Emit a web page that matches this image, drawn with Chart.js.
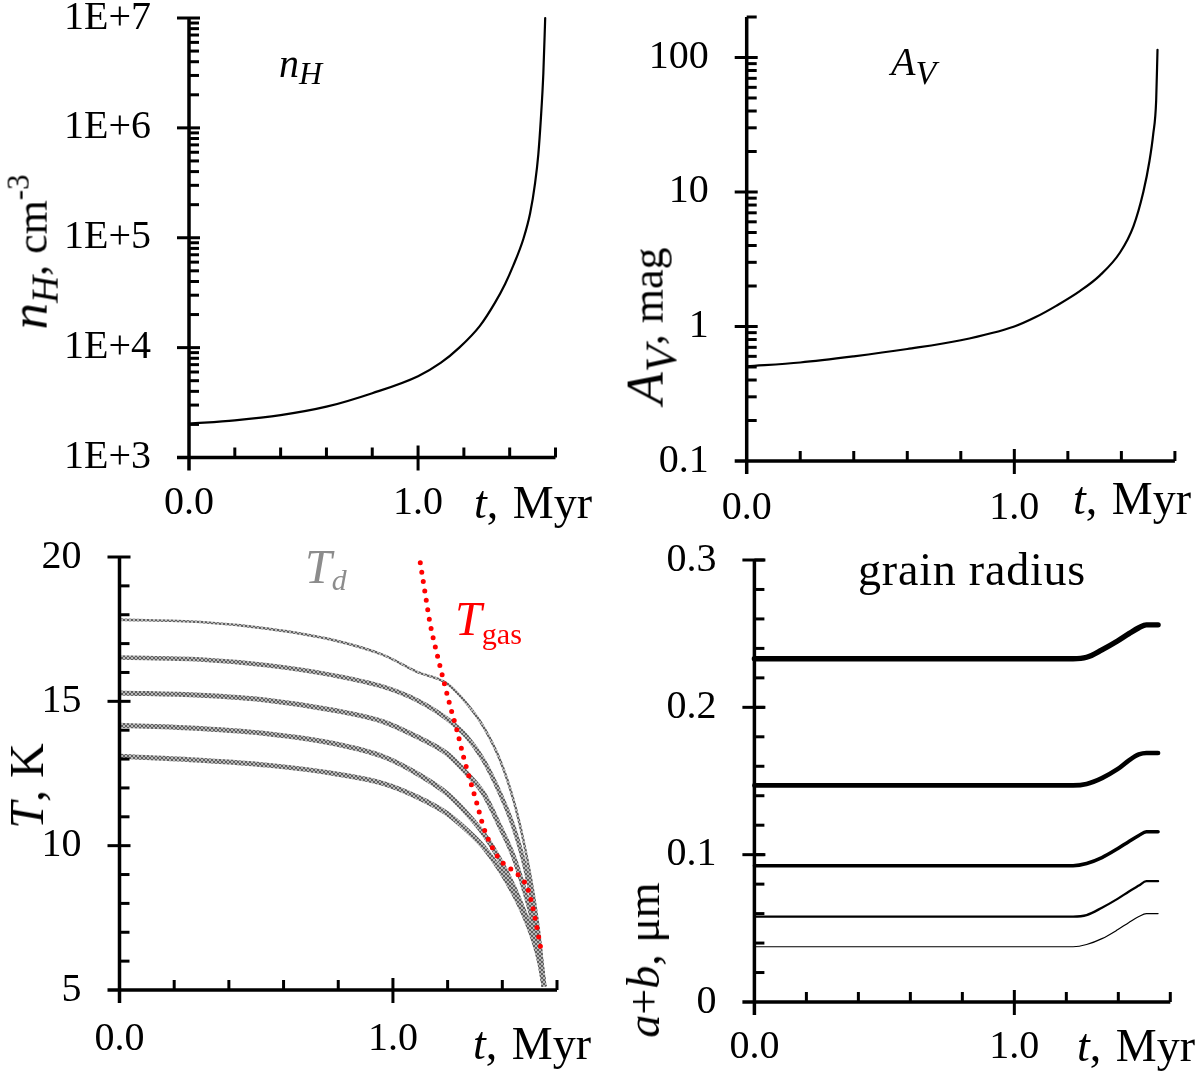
<!DOCTYPE html>
<html>
<head>
<meta charset="utf-8">
<script src="https://cdn.jsdelivr.net/npm/chart.js@4.4.1/dist/chart.umd.min.js"></script>
<style>
html, body { margin: 0; padding: 0; background: #fff; }
body { width: 1200px; height: 1072px; position: relative; overflow: hidden; font-family: 'Liberation Serif', 'Times New Roman', serif; color: #000; }
canvas { position: absolute; }
.lbl { position: absolute; white-space: nowrap; line-height: 1; transform: translateY(-50%); }
.rot { transform: translate(-50%, -50%) rotate(-90deg); }
.sb { font-size: .8em; position: relative; top: .3em; }
.sp { font-size: .7em; position: relative; top: -.6em; }
.tm { font-size: 46px; word-spacing: 3px; }
</style>
</head>
<body>
<canvas id="nhChart" width="600" height="536" style="left:0;top:0"></canvas>
<canvas id="avChart" width="600" height="536" style="left:600px;top:0"></canvas>
<canvas id="tChart" width="600" height="536" style="left:0;top:536px"></canvas>
<canvas id="grainChart" width="600" height="536" style="left:600px;top:536px"></canvas>

<!-- 軸タイトル・注記 -->
<div class="lbl rot" style="left:29px;top:252px;font-size:44px"><i style="font-size:1.2em">n</i><span class="sb" style="font-size:.85em"><i>H</i></span>, cm<span class="sp">-3</span></div>
<div class="lbl" style="left:279px;top:64px;font-size:40px"><i>n</i><span style="font-size:.8em;position:relative;top:.22em"><i>H</i></span></div>
<div class="lbl tm" style="right:608px;top:503px"><i>t</i>, Myr</div>

<div class="lbl rot" style="left:645px;top:326px;font-size:44px"><i style="font-size:1.2em">A</i><span class="sb" style="font-size:1em"><i>V</i></span>, mag</div>
<div class="lbl" style="left:891px;top:62px;font-size:40px"><i>A</i><span style="font-size:.85em;position:relative;top:.25em"><i>V</i></span></div>
<div class="lbl tm" style="right:9px;top:499px"><i>t</i>, Myr</div>

<div class="lbl rot" style="left:27px;top:786px;font-size:48px"><i>T</i>, K</div>
<div class="lbl" style="left:305px;top:567px;font-size:48px;color:#8c8c8c"><i>T</i><span style="font-size:.62em;position:relative;top:.25em"><i>d</i></span></div>
<div class="lbl" style="left:455px;top:619px;font-size:48px;color:#f00"><i>T</i><span style="font-size:.63em;position:relative;top:.3em">gas</span></div>
<div class="lbl tm" style="right:609px;top:1044px"><i>t</i>, Myr</div>

<div class="lbl rot" style="left:644px;top:960px;font-size:46px"><i>a</i>+<i>b</i>, μm</div>
<div class="lbl" style="left:858px;top:570px;font-size:46px;letter-spacing:0.8px">grain radius</div>
<div class="lbl tm" style="right:5px;top:1046px"><i>t</i>, Myr</div>

<script>
// 時間軸の目盛り
const xTicks = [0, 1];
const xTickLabels = ['0.0', '1.0'];
const xMinorTicks = [0.2, 0.4, 0.6, 0.8, 1.2, 1.4, 1.6];

// n_H (cm^-3)
const nhTime = [0, 0.2, 0.4, 0.6, 0.8, 1.0, 1.1, 1.18, 1.27, 1.336, 1.38, 1.416, 1.46, 1.489, 1.511, 1.525, 1.536, 1.547, 1.555];
const nhValues = [2030, 2180, 2430, 2900, 3850, 5500, 7300, 10000, 15800, 25700, 38000, 56000, 98000, 166000, 316000, 575000, 1200000, 3160000, 10000000];
const nhTicks = [1e3, 1e4, 1e5, 1e6, 1e7];
const nhTickLabels = ['1E+3', '1E+4', '1E+5', '1E+6', '1E+7'];

// A_V (mag)
const avTime = [0, 0.2, 0.4, 0.6, 0.8, 1.0, 1.08, 1.158, 1.246, 1.32, 1.395, 1.445, 1.482, 1.505, 1.519, 1.53, 1.535];
const avValues = [0.506, 0.54, 0.6, 0.68, 0.79, 1.0, 1.175, 1.43, 1.84, 2.4, 3.55, 5.56, 10, 17, 26.9, 47.9, 114];
const avTicks = [0.1, 1, 10, 100];
const avTickLabels = ['0.1', '1', '10', '100'];

// 温度 (K)
const dustTime = [0, 0.296, 0.54, 0.783, 0.966, 1.088, 1.197, 1.27, 1.331, 1.392, 1.441, 1.477, 1.514, 1.538, 1.553];
const dustT1 = [17.83, 17.75, 17.52, 17.12, 16.6, 16.02, 15.62, 14.92, 14.12, 12.96, 11.58, 10.19, 8.35, 6.73, 5.2];
const dustT2 = [16.52, 16.45, 16.25, 15.9, 15.5, 15.04, 14.4, 13.77, 12.96, 11.8, 10.65, 9.5, 7.88, 6.38, 5.12];
const dustT3 = [15.29, 15.21, 15.04, 14.69, 14.29, 13.77, 13.19, 12.5, 11.81, 10.65, 9.62, 8.58, 7.31, 6.15, 5.12];
const dustT4 = [14.17, 14.06, 13.88, 13.54, 13.08, 12.5, 11.81, 11.12, 10.42, 9.5, 8.58, 7.77, 6.85, 5.92, 5.12];
const dustT5 = [13.1, 12.96, 12.79, 12.5, 12.15, 11.69, 11.12, 10.54, 9.96, 9.15, 8.35, 7.65, 6.73, 5.92, 5.12];
const gasTime = [1.1, 1.118, 1.136, 1.161, 1.185, 1.21, 1.234, 1.258, 1.282, 1.307, 1.331, 1.362, 1.392, 1.429, 1.465, 1.49, 1.508, 1.526, 1.544];
const gasT = [19.8, 18.73, 17.69, 16.65, 15.73, 14.81, 14.0, 13.08, 12.27, 11.46, 10.65, 9.96, 9.5, 9.21, 8.92, 8.58, 8.0, 7.19, 6.27];
const tTicks = [5, 10, 15, 20];
const tTickLabels = ['5', '10', '15', '20'];

// 粒子半径 a+b (μm)
const grainTime = [0, 0.5, 1.0, 1.226, 1.278, 1.337, 1.397, 1.441, 1.479, 1.508, 1.553];
const grain1 = [0.233, 0.233, 0.233, 0.233, 0.234, 0.239, 0.245, 0.250, 0.254, 0.256, 0.256];
const grain2 = [0.147, 0.147, 0.147, 0.147, 0.148, 0.152, 0.158, 0.164, 0.168, 0.169, 0.169];
const grain3 = [0.0925, 0.0925, 0.0925, 0.0925, 0.094, 0.098, 0.104, 0.109, 0.113, 0.1155, 0.1155];
const grain4 = [0.058, 0.058, 0.058, 0.058, 0.059, 0.064, 0.070, 0.075, 0.079, 0.082, 0.082];
const grain5 = [0.0375, 0.0375, 0.0375, 0.0375, 0.039, 0.043, 0.049, 0.054, 0.058, 0.060, 0.060];
const grainTicks = [0, 0.1, 0.2, 0.3];
const grainTickLabels = ['0', '0.1', '0.2', '0.3'];

const FONT = { family: "'Liberation Serif', 'Times New Roman', serif", size: 40 };

function pts(xs, ys) {
    return xs.map((x, i) => ({ x, y: ys[i] }));
}

function logMinor(from, to, extra) {
    const out = [];
    for (let d = from; d < to; d *= 10) {
        for (let k = 2; k <= 9; k++) out.push(d * k);
    }
    return out.concat(extra || []);
}

function steps(from, to, step, skip) {
    const out = [];
    for (let v = from; v <= to + 1e-9; v += step) {
        const r = Math.round(v * 1000) / 1000;
        if (!skip.some(s => Math.abs(s - r) < 1e-6)) out.push(r);
    }
    return out;
}

// 軸線と目盛り（主目盛りは軸をまたぎ、補助目盛りは内側）
const axesPlugin = {
    id: 'axes',
    afterDatasetsDraw(chart, args, o) {
        const { ctx, chartArea: a, scales: { x, y } } = chart;
        const seg = (x1, y1, x2, y2) => { ctx.beginPath(); ctx.moveTo(x1, y1); ctx.lineTo(x2, y2); ctx.stroke(); };
        ctx.save();
        ctx.strokeStyle = '#000';
        ctx.lineWidth = 3;
        o.yMajor.forEach(v => { const p = y.getPixelForValue(v); seg(a.left - 12, p, a.left + 11, p); });
        o.yMinor.forEach(v => { const p = y.getPixelForValue(v); seg(a.left, p, a.left + 10, p); });
        [1].forEach(v => { const p = x.getPixelForValue(v); seg(p, a.bottom - 12, p, a.bottom + 13); });
        xMinorTicks.forEach(v => { const p = x.getPixelForValue(v); seg(p, a.bottom - 10, p, a.bottom); });
        ctx.lineWidth = 3.5;
        seg(a.left, a.top, a.left, a.bottom + 13);
        seg(a.left - 12, a.bottom, a.right, a.bottom);
        ctx.restore();
    }
};

function makePanel(id, o) {
    return new Chart(document.getElementById(id), {
        type: 'scatter',
        data: { datasets: o.datasets },
        options: {
            responsive: false,
            animation: false,
            clip: false,
            layout: { padding: { top: o.box.top, right: o.box.right, left: 0, bottom: 0 } },
            plugins: { legend: { display: false }, tooltip: { enabled: false }, axes: o.axes },
            elements: { point: { radius: 0 }, line: { cubicInterpolationMode: 'monotone' } },
            scales: {
                x: {
                    type: 'linear', min: 0, max: 1.6,
                    grid: { display: false, drawTicks: false }, border: { display: false },
                    ticks: { font: FONT, color: '#000', padding: o.xPad, maxRotation: 0, autoSkip: false,
                             callback: (v, i) => xTickLabels[i] },
                    afterBuildTicks: s => { s.ticks = xTicks.map(v => ({ value: v })); },
                    afterFit: s => { s.height = o.box.bottom; s.paddingLeft = 0; s.paddingRight = 0; }
                },
                y: {
                    type: o.yType, min: o.yMin, max: o.yMax,
                    grid: { display: false, drawTicks: false }, border: { display: false },
                    ticks: { font: FONT, color: '#000', padding: 38, autoSkip: false,
                             callback: (v, i) => o.yLabels[i] },
                    afterBuildTicks: s => { s.ticks = o.yTicks.map(v => ({ value: v })); },
                    afterFit: s => { s.width = o.box.left; s.paddingTop = 0; s.paddingBottom = 0; }
                }
            }
        },
        plugins: [axesPlugin]
    });
}

function blackLine(data, w) {
    return { data, showLine: true, borderColor: '#000', borderWidth: w, borderCapStyle: 'round', borderJoinStyle: 'round', pointRadius: 0 };
}

// 塵温度の網掛け模様
function hatchPattern(target) {
    const c = document.createElement('canvas');
    c.width = 4; c.height = 4;
    const g = c.getContext('2d');
    g.fillStyle = '#b8b8b8';
    g.fillRect(0, 0, 4, 4);
    g.strokeStyle = '#555';
    g.lineWidth = 0.9;
    g.beginPath();
    g.moveTo(0, 0); g.lineTo(4, 4);
    g.moveTo(4, 0); g.lineTo(0, 4);
    g.stroke();
    return target.getContext('2d').createPattern(c, 'repeat');
}

makePanel('nhChart', {
    box: { left: 189, top: 18, right: 44.5, bottom: 78.5 },
    xPad: 22,
    yType: 'logarithmic', yMin: 1e3, yMax: 1e7,
    yTicks: nhTicks, yLabels: nhTickLabels,
    axes: { yMajor: [1e4, 1e5, 1e6, 1e7], yMinor: logMinor(1e3, 1e7) },
    datasets: [blackLine(pts(nhTime, nhValues), 2.2)]
});

makePanel('avChart', {
    box: { left: 146.7, top: 17, right: 25.1, bottom: 75 },
    xPad: 23,
    yType: 'logarithmic', yMin: 0.1, yMax: 200,
    yTicks: avTicks, yLabels: avTickLabels,
    axes: { yMajor: [1, 10, 100], yMinor: logMinor(0.1, 100, [200]) },
    datasets: [blackLine(pts(avTime, avValues), 2.2)]
});

const tCanvas = document.getElementById('tChart');
const hatch = hatchPattern(tCanvas);
const dustSets = [[dustT1, 2.6], [dustT2, 4.5], [dustT3, 5], [dustT4, 5], [dustT5, 5]].map(([vals, w]) => ({
    data: pts(dustTime, vals), showLine: true, borderColor: hatch, borderWidth: w, borderCapStyle: 'butt', pointRadius: 0
}));
// 先頭のデータセットが最前面に描かれる
makePanel('tChart', {
    box: { left: 119.5, top: 21, right: 43, bottom: 82 },
    xPad: 25,
    yType: 'linear', yMin: 5, yMax: 20,
    yTicks: tTicks, yLabels: tTickLabels,
    axes: { yMajor: [10, 15, 20], yMinor: steps(5, 20, 1, [5, 10, 15, 20]) },
    datasets: [{
        data: pts(gasTime, gasT), showLine: true, borderColor: '#f00', borderWidth: 5,
        borderDash: [0, 9.5], borderCapStyle: 'round', pointRadius: 0
    }].concat(dustSets)
});

makePanel('grainChart', {
    box: { left: 154.4, top: 24, right: 29.7, bottom: 70 },
    xPad: 21,
    yType: 'linear', yMin: 0, yMax: 0.3,
    yTicks: grainTicks, yLabels: grainTickLabels,
    axes: { yMajor: [0.1, 0.2, 0.3], yMinor: steps(0, 0.3, 0.02, [0]) },
    datasets: [
        blackLine(pts(grainTime, grain1), 5.4),
        blackLine(pts(grainTime, grain2), 4.6),
        blackLine(pts(grainTime, grain3), 3.5),
        blackLine(pts(grainTime, grain4), 2.3),
        blackLine(pts(grainTime, grain5), 1.2)
    ]
});
</script>
</body>
</html>
